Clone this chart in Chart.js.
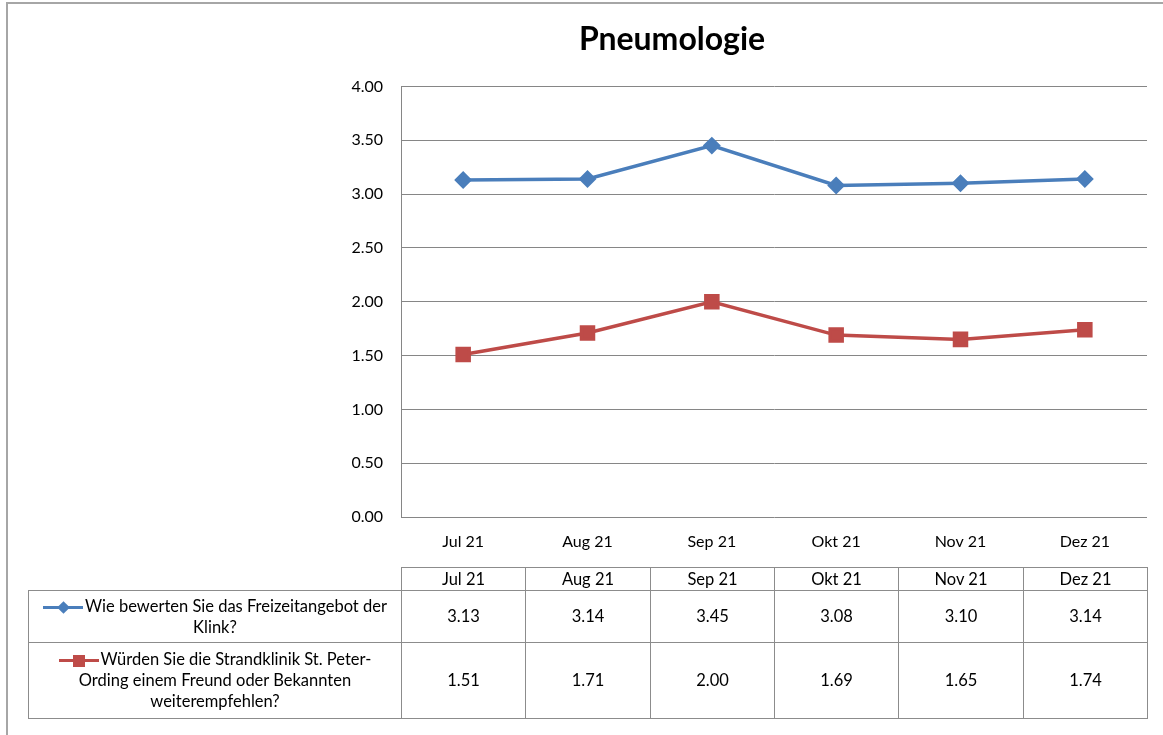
<!DOCTYPE html>
<html>
<head>
<meta charset="utf-8">
<script src="https://cdn.jsdelivr.net/npm/chart.js@4"></script>
<style>
html, body { margin: 0; padding: 0; background: #fff; }
#wrap { position: relative; width: 1163px; height: 735px; overflow: hidden; font-family: Lato, sans-serif; }
#frame { position: absolute; left: 6px; top: 2px; width: 1170px; height: 760px; border: 2px solid #a6a6a6; box-sizing: border-box; }
canvas { position: absolute; left: 0; top: 0; }
.cell { position: absolute; box-sizing: border-box; border: 1px solid #8c8c8c; display: flex; align-items: center; justify-content: center; text-align: center; font-size: 16.5px; color: #000; line-height: 21px; }
.smp { display: inline-block; position: relative; width: 40px; height: 3px; vertical-align: middle; margin-right: 2px; }
.mk { position: absolute; left: 50%; top: 50%; }
</style>
</head>
<body>
<div id="wrap">
  <div id="frame"></div>
  <canvas id="chart" width="1163" height="735"></canvas>
  <div id="table"></div>
</div>
<script>
const months = ["Jul 21", "Aug 21", "Sep 21", "Okt 21", "Nov 21", "Dez 21"];
const freizeit = [3.13, 3.14, 3.45, 3.08, 3.10, 3.14];
const empfehlung = [1.51, 1.71, 2.00, 1.69, 1.65, 1.74];
const freizeitLabel = ["Wie bewerten Sie das Freizeitangebot der", "Klink?"];
const empfehlungLabel = ["Würden Sie die Strandklinik St. Peter-", "Ording einem Freund oder Bekannten", "weiterempfehlen?"];

const blue = "#4a7ebb";
const red = "#be4b48";
const gridGray = "#868686";
const font = "Lato, sans-serif";

const chart = new Chart(document.getElementById("chart"), {
    type: "line",
    data: {
        labels: months,
        datasets: [
            {
                label: freizeitLabel.join(" "),
                data: freizeit,
                borderColor: blue,
                backgroundColor: blue,
                borderWidth: 3.5,
                pointStyle: "rectRot",
                pointRadius: 6.5,
                pointHoverRadius: 6.5,
                tension: 0
            },
            {
                label: empfehlungLabel.join(" "),
                data: empfehlung,
                borderColor: red,
                backgroundColor: red,
                borderWidth: 3.5,
                pointStyle: "rect",
                pointRadius: 8.5,
                pointHoverRadius: 8.5,
                tension: 0
            }
        ]
    },
    options: {
        responsive: false,
        animation: false,
        layout: { padding: { left: 197, right: 16, top: 0, bottom: 0 } },
        plugins: {
            legend: { display: false },
            tooltip: { enabled: false },
            title: {
                display: true,
                text: "Pneumologie",
                color: "#000",
                font: { family: font, size: 32, weight: "bold" },
                padding: { top: 20, bottom: 28 }
            }
        },
        scales: {
            x: {
                offset: true,
                grid: { display: false, drawTicks: false },
                border: { display: false },
                ticks: { color: "#000", font: { family: font, size: 16 }, padding: 15, maxRotation: 0 },
                afterFit: s => { s.height = 218; }
            },
            y: {
                min: 0,
                max: 4,
                grid: { color: gridGray, lineWidth: 1, drawTicks: false },
                border: { color: gridGray, width: 1 },
                ticks: {
                    stepSize: 0.5,
                    color: "#000",
                    font: { family: font, size: 16 },
                    padding: 18,
                    callback: v => Number(v).toFixed(2)
                },
                afterFit: s => { s.width = 204; }
            }
        }
    }
});

// data table under the plot, columns aligned with the category scale
function buildTable() {
    const xs = chart.scales.x;
    const area = chart.chartArea;
    const step = xs.getPixelForValue(1) - xs.getPixelForValue(0);
    const left = xs.getPixelForValue(0) - step / 2;
    const rows = [
        { top: area.bottom + 50, h: 24 },
        { top: area.bottom + 73, h: 53 },
        { top: area.bottom + 125, h: 77 }
    ];
    const host = document.getElementById("table");
    let html = "";
    const cell = (x, y, w, h, content) =>
        `<div class="cell" style="left:${x}px;top:${y}px;width:${w + 1}px;height:${h}px">${content}</div>`;

    months.forEach((m, i) => {
        const x = Math.round(left + i * step);
        const w = Math.round(left + (i + 1) * step) - x;
        html += cell(x, rows[0].top, w, rows[0].h, m);
        html += cell(x, rows[1].top, w, rows[1].h, freizeit[i].toFixed(2));
        html += cell(x, rows[2].top, w, rows[2].h, empfehlung[i].toFixed(2));
    });

    const legX = 28;
    const legW = Math.round(left) - legX;
    const diamond = `<span class="mk" style="width:9px;height:9px;margin:-4.5px 0 0 -4.5px;background:${blue};transform:rotate(45deg)"></span>`;
    const square = `<span class="mk" style="width:12px;height:12px;margin:-6px 0 0 -6px;background:${red}"></span>`;
    const s1 = `<span class="smp" style="background:${blue}">${diamond}</span>`;
    const s2 = `<span class="smp" style="background:${red}">${square}</span>`;
    html += cell(legX, rows[1].top, legW, rows[1].h, `<div>${s1}${freizeitLabel.join("<br>")}</div>`);
    html += cell(legX, rows[2].top, legW, rows[2].h, `<div>${s2}${empfehlungLabel.join("<br>")}</div>`);
    host.innerHTML = html;
}
buildTable();
</script>
</body>
</html>
